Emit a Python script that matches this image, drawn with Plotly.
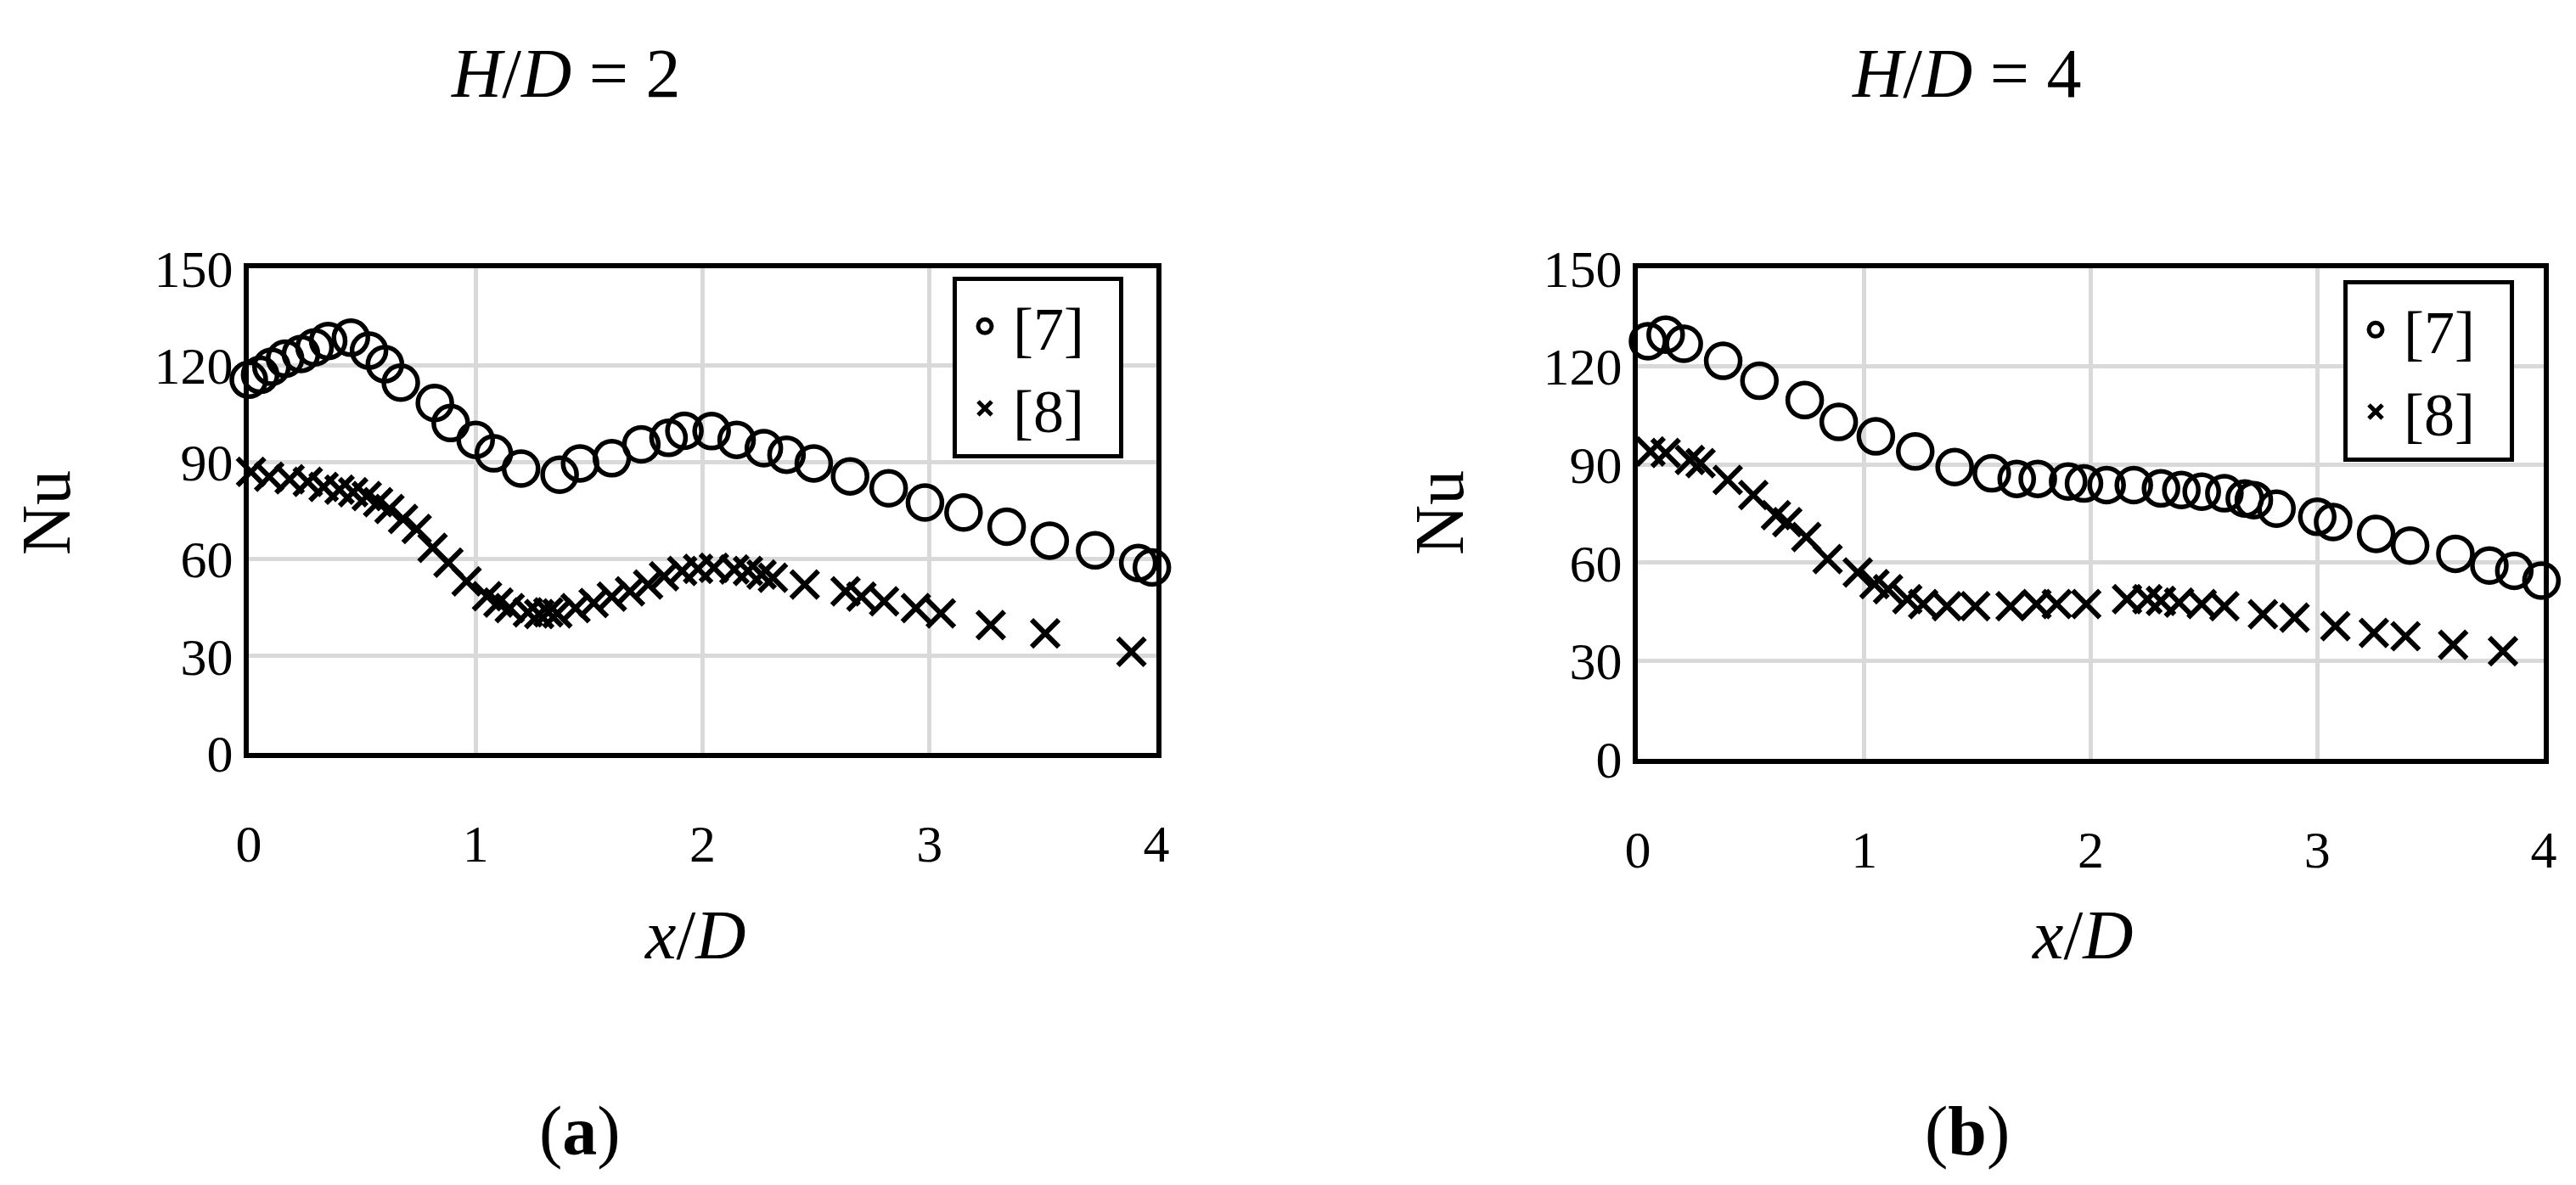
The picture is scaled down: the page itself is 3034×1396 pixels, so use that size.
import plotly.graph_objects as go

# ---- data ----
x7a = [0.00, 0.05, 0.10, 0.16, 0.23, 0.29, 0.35, 0.45, 0.53, 0.60, 0.67, 0.82, 0.89, 1.00, 1.08,
       1.20, 1.37, 1.46, 1.60, 1.73, 1.85, 1.92, 2.04, 2.15, 2.27, 2.37, 2.49, 2.65, 2.82, 2.98,
       3.15, 3.34, 3.53, 3.73, 3.92, 3.98]
y7a = [115.5, 117.0, 119.5, 122.0, 123.5, 125.5, 127.5, 128.5, 124.5, 120.3, 114.6, 108.3, 102.1, 96.9, 92.7,
       88.0, 86.1, 89.6, 91.2, 95.5, 97.5, 99.7, 99.6, 96.9, 94.3, 92.3, 89.6, 85.6, 81.9, 77.5,
       74.4, 70.0, 65.7, 62.7, 58.8, 57.4]

x8a = [0.01, 0.09, 0.18, 0.26, 0.33, 0.40, 0.46, 0.52, 0.57, 0.62, 0.68, 0.74, 0.81, 0.88, 0.96,
       1.05, 1.10, 1.15, 1.23, 1.28, 1.32, 1.36, 1.44, 1.52, 1.60, 1.68, 1.76, 1.83, 1.91, 1.98,
       2.05, 2.14, 2.20, 2.26, 2.31, 2.45, 2.63, 2.70, 2.80, 2.94, 3.05, 3.27, 3.51, 3.89]
y8a = [87.0, 85.5, 84.7, 83.9, 82.3, 81.5, 80.7, 79.5, 77.6, 75.5, 72.4, 69.3, 63.5, 58.9, 53.1,
       48.5, 46.5, 44.8, 43.5, 43.0, 43.5, 43.2, 44.8, 46.4, 48.4, 50.0, 52.1, 54.7, 56.3, 57.0,
       57.3, 56.8, 56.3, 55.2, 54.2, 52.1, 50.0, 48.4, 46.9, 44.8, 43.2, 39.6, 37.0, 31.3]

x7b = [0.045, 0.123, 0.203, 0.377, 0.537, 0.737, 0.887, 1.051, 1.225, 1.399, 1.563, 1.673, 1.766,
       1.90, 1.97, 2.07, 2.19, 2.31, 2.40, 2.49, 2.59, 2.68, 2.72, 2.82, 3.00, 3.07, 3.26, 3.41,
       3.61, 3.76, 3.87, 3.99]
y7b = [127.7, 129.7, 126.9, 121.7, 115.6, 109.7, 103.0, 98.6, 94.0, 89.2, 87.3, 85.6, 85.6,
       84.8, 84.2, 83.7, 83.7, 82.7, 82.2, 81.7, 81.2, 79.6, 79.1, 76.5, 74.0, 72.4, 68.8, 65.2,
       62.7, 59.1, 57.5, 54.5]

x8b = [0.056, 0.123, 0.23, 0.277, 0.397, 0.51, 0.61, 0.66, 0.744, 0.838, 0.971, 1.045, 1.105, 1.19,
       1.26, 1.365, 1.49, 1.646, 1.76, 1.85, 1.98, 2.16, 2.25, 2.31, 2.39, 2.49, 2.59, 2.76, 2.90,
       3.08, 3.25, 3.39, 3.60, 3.82]
y8b = [94.0, 93.5, 91.4, 90.4, 85.3, 80.7, 74.5, 72.4, 67.8, 61.1, 57.0, 53.4, 51.9, 48.8,
       47.3, 46.7, 46.7, 46.7, 47.3, 47.3, 47.3, 48.8, 48.8, 48.3, 47.8, 47.3, 46.7, 44.2, 43.2,
       40.6, 38.5, 37.5, 34.9, 32.9]

series_names = ["[7]", "[8]"]
panel_titles = ["<i>H</i>/<i>D</i> = 2", "<i>H</i>/<i>D</i> = 4"]
panel_labels = ["(<b>a</b>)", "(<b>b</b>)"]
x_ticks = [0, 1, 2, 3, 4]
y_ticks = [0, 30, 60, 90, 120, 150]

FONT = "Liberation Serif"
W, H = 3034, 1396

circle = dict(symbol="circle-open", size=40, color="black", line=dict(color="black", width=5.5))
cross = dict(symbol="x-thin-open", size=32, color="black", line=dict(color="black", width=6))

fig = go.Figure()
fig.add_trace(go.Scatter(x=x7a, y=y7a, mode="markers", name=series_names[0] + "\u2002", marker=circle,
                         xaxis="x", yaxis="y", legend="legend", cliponaxis=False))
fig.add_trace(go.Scatter(x=x8a, y=y8a, mode="markers", name=series_names[1] + "\u2002", marker=cross,
                         xaxis="x", yaxis="y", legend="legend", cliponaxis=False))
fig.add_trace(go.Scatter(x=x7b, y=y7b, mode="markers", name=series_names[0] + "\u2002", marker=circle,
                         xaxis="x2", yaxis="y2", legend="legend2", cliponaxis=False))
fig.add_trace(go.Scatter(x=x8b, y=y8b, mode="markers", name=series_names[1] + "\u2002", marker=cross,
                         xaxis="x2", yaxis="y2", legend="legend2", cliponaxis=False))

def px_x(p):
    return p / W

def px_y(p):
    return 1 - p / H

axis_common = dict(showline=True, linecolor="black", linewidth=6, mirror=True, automargin=False,
                   showgrid=True, gridcolor="#d9d9d9", gridwidth=5, zeroline=False,
                   ticks="", tickfont=dict(family=FONT, size=62, color="black"))

xa = dict(axis_common, range=[0, 4], tickvals=x_ticks, ticklabelstandoff=48)
ya = dict(axis_common, range=[0, 150], tickvals=y_ticks, ticklabelstandoff=0)

legend_common = dict(xanchor="left", yanchor="top", bordercolor="black", borderwidth=5,
                     bgcolor="white", font=dict(family=FONT, size=72, color="black"),
                     itemwidth=56)

fig.update_layout(
    template="none",
    width=W, height=H, autosize=False,
    margin=dict(l=0, r=0, t=0, b=0, autoexpand=False),
    paper_bgcolor="white", plot_bgcolor="white",
    xaxis=dict(xa, domain=[px_x(285), px_x(1354)], anchor="y"),
    yaxis=dict(ya, domain=[px_y(879), px_y(308)], anchor="x"),
    xaxis2=dict(xa, domain=[px_x(1921), px_x(2988)], anchor="y2"),
    yaxis2=dict(ya, domain=[px_y(886), px_y(308)], anchor="x2"),
    legend=dict(legend_common, x=px_x(1114), y=px_y(318)),
    legend2=dict(legend_common, x=px_x(2752), y=px_y(322)),
    showlegend=True,
)

ann_font = dict(family=FONT, size=82, color="black")
annotations = []
for i, (cx_title, cx_axis, cx_nu, cx_lab) in enumerate([(658, 810, 46, 675), (2308, 2444, 1687, 2309)]):
    annotations.append(dict(text=panel_titles[i], x=px_x(cx_title), y=px_y(78), xref="paper", yref="paper",
                            showarrow=False, xanchor="center", yanchor="middle", font=ann_font))
    annotations.append(dict(text="<i>x</i>/<i>D</i>", x=px_x(cx_axis), y=px_y(1093), xref="paper", yref="paper",
                            showarrow=False, xanchor="center", yanchor="middle", font=ann_font))
    annotations.append(dict(text="Nu", x=px_x(cx_nu), y=px_y(596), xref="paper", yref="paper",
                            showarrow=False, xanchor="center", yanchor="middle", textangle=-90, font=ann_font))
    annotations.append(dict(text=panel_labels[i], x=px_x(cx_lab), y=px_y(1324), xref="paper", yref="paper",
                            showarrow=False, xanchor="center", yanchor="middle", font=ann_font))
fig.update_layout(annotations=annotations)

fig.write_html("out.html")
